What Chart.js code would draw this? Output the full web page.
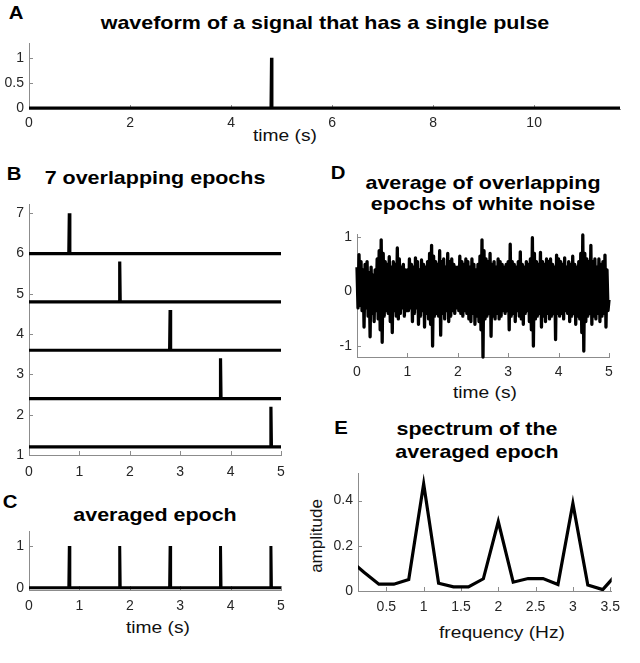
<!DOCTYPE html>
<html>
<head>
<meta charset="utf-8">
<script src="https://cdn.jsdelivr.net/npm/chart.js@4.4.1/dist/chart.umd.min.js"></script>
<style>
  body { margin: 0; width: 640px; height: 663px; background: #fff; position: relative; overflow: hidden;
         font-family: "Liberation Sans", Arial, sans-serif; }
  .panel { position: absolute; }
  .txt { position: absolute; white-space: nowrap; line-height: 1; color: #000;
         transform: translate(-50%, -50%) scaleX(1.13); }
  .letter { font-weight: bold; font-size: 18px; }
  .title { font-weight: bold; font-size: 19px; }
  .label { font-size: 17px; color: #111; }
  .rot { transform: translate(-50%, -50%) rotate(-90deg); }
</style>
</head>
<body>

<div class="txt letter" style="left:16px;top:13px">A</div>
<div class="txt title" style="left:325px;top:22px">waveform of a signal that has a single pulse</div>
<div class="txt label" style="left:285px;top:135px">time (s)</div>

<div class="txt letter" style="left:14px;top:174px">B</div>
<div class="txt title" style="left:155px;top:177px">7 overlapping epochs</div>

<div class="txt letter" style="left:10px;top:502px">C</div>
<div class="txt title" style="left:155px;top:514px">averaged epoch</div>
<div class="txt label" style="left:158px;top:627px">time (s)</div>

<div class="txt letter" style="left:338px;top:173px">D</div>
<div class="txt title" style="left:483px;top:182px">average of overlapping</div>
<div class="txt title" style="left:483px;top:203px">epochs of white noise</div>
<div class="txt label" style="left:485px;top:392px">time (s)</div>

<div class="txt letter" style="left:341px;top:428px">E</div>
<div class="txt title" style="left:477px;top:428px">spectrum of the</div>
<div class="txt title" style="left:477px;top:451px">averaged epoch</div>
<div class="txt label" style="left:502px;top:632px">frequency (Hz)</div>
<div class="txt label rot" style="left:316px;top:536px">amplitude</div>

<script>
// A: a signal with a single pulse
const aTimes = [0, 4.79, 4.8, 4.81, 11.7];
const aValues = [0, 0, 1, 0, 0];
const aXTicks = [0, 2, 4, 6, 8, 10];
const aYTicks = [0, 0.5, 1];

// B: 7 overlapping epochs (each drawn with its own offset)
const epochBaselines = [6, 4.8, 3.6, 2.4, 1.2];
const epochPulseTimes = [0.8, 1.8, 2.8, 3.8, 4.8];
const bXTicks = [0, 1, 2, 3, 4, 5];
const bYTicks = [1, 2, 3, 4, 5, 6, 7];

// C: averaged epoch
const avgPulseTimes = [0.8, 1.8, 2.8, 3.8, 4.8];
const avgPulseHeight = 1;
const cXTicks = [0, 1, 2, 3, 4, 5];
const cYTicks = [0, 1];

// pulses are one sample wide
const sampleStep = 0.01;
const epochLength = 5;

// D: average of overlapping epochs of white noise, one value every 0.02 s
const noiseStep = 0.02;
const noiseValues = [
  0.45, -0.30, 0.68, -0.25, 0.55, -0.35, 0.40, -0.65, 0.50, -0.30,
  0.55, -0.45, 0.35, -0.83, 0.45, -0.40, 0.30, -0.55, 0.40, -0.35,
  0.60, -0.50, 0.75, -0.70, 0.95, -0.93, 0.70, -0.45, 0.55, -0.35,
  0.50, -0.40, 0.64, -0.55, 0.45, -0.75, 0.55, -0.35, 0.50, -0.45,
  0.80, -0.50, 0.60, -0.40, 0.45, -0.30, 0.50, -0.45, 0.40, -0.35,
  0.40, -0.35, 0.60, -0.30, 0.50, -0.55, 0.45, -0.40, 0.62, -0.30,
  0.55, -0.60, 0.40, -0.45, 0.58, -0.35, 0.50, -0.65, 0.45, -0.40,
  0.55, -0.50, 0.70, -0.60, 0.85, -1.00, 0.65, -0.45, 0.55, -0.40,
  0.50, -0.45, 0.75, -0.80, 0.55, -0.40, 0.60, -0.50, 0.45, -0.35,
  0.70, -0.55, 0.55, -0.45, 0.60, -0.35, 0.50, -0.40, 0.45, -0.30,
  0.45, -0.35, 0.65, -0.40, 0.55, -0.45, 0.50, -0.35, 0.60, -0.40,
  0.55, -0.50, 0.45, -0.55, 0.60, -0.40, 0.50, -0.60, 0.40, -0.45,
  0.50, -0.55, 0.65, -0.70, 0.95, -1.20, 0.75, -0.50, 0.60, -0.45,
  0.55, -0.40, 0.70, -0.82, 0.50, -0.45, 0.55, -0.50, 0.45, -0.40,
  0.60, -0.50, 0.55, -0.45, 0.50, -0.35, 0.45, -0.40, 0.50, -0.35,
  0.55, -0.70, 0.87, -0.45, 0.55, -0.40, 0.50, -0.55, 0.45, -0.35,
  0.55, -0.45, 0.73, -0.50, 0.50, -0.60, 0.45, -0.40, 0.55, -0.35,
  0.50, -0.55, 0.60, -0.70, 0.99, -1.00, 0.70, -0.50, 0.55, -0.45,
  0.50, -0.40, 0.72, -0.65, 0.55, -0.45, 0.50, -0.55, 0.60, -0.40,
  0.55, -0.50, 0.60, -0.45, 0.50, -0.40, 0.45, -0.88, 0.67, -0.40,
  0.60, -0.45, 0.55, -0.40, 0.50, -0.50, 0.62, -0.35, 0.45, -0.40,
  0.55, -0.55, 0.50, -0.45, 0.65, -0.40, 0.50, -0.60, 0.45, -0.45,
  0.55, -0.50, 0.70, -0.75, 1.04, -1.09, 0.70, -0.55, 0.60, -0.45,
  0.55, -0.40, 0.85, -0.60, 0.55, -0.45, 0.60, -0.50, 0.45, -0.40,
  0.60, -0.55, 0.50, -0.45, 0.55, -0.40, 0.67, -0.65, 0.40, -0.35,
  -0.15
];
const dXTicks = [0, 1, 2, 3, 4, 5];
const dYTicks = [-1, 0, 1];

// E: spectrum of the averaged epoch
const specFreqs = [0, 0.2, 0.4, 0.6, 0.8, 1.0, 1.2, 1.4, 1.6, 1.8, 2.0, 2.2, 2.4, 2.6, 2.8, 3.0, 3.2, 3.4, 3.6];
const specAmps = [0.14, 0.083, 0.03, 0.03, 0.051, 0.474, 0.034, 0.018, 0.018, 0.054, 0.307, 0.039, 0.055, 0.055, 0.029, 0.387, 0.026, 0.006, 0.08];
const eXTicks = [0.5, 1, 1.5, 2, 2.5, 3, 3.5];
const eYTicks = [0, 0.2, 0.4];

Chart.defaults.font.family = '"Liberation Sans", Arial, sans-serif';
Chart.defaults.color = '#262626';

// MATLAB style ticks: short marks pointing into the axes
const inwardTicks = {
  id: 'inwardTicks',
  beforeDatasetsDraw(chart) {
    const { ctx, chartArea: area, scales: { x, y } } = chart;
    ctx.save();
    ctx.strokeStyle = '#8c8c8c';
    ctx.lineWidth = 1;
    ctx.beginPath();
    for (const t of x.ticks) {
      const px = Math.round(x.getPixelForValue(t.value)) + 0.5;
      ctx.moveTo(px, area.bottom);
      ctx.lineTo(px, area.bottom - 4);
    }
    for (const t of y.ticks) {
      const py = Math.round(y.getPixelForValue(t.value)) + 0.5;
      ctx.moveTo(area.left, py);
      ctx.lineTo(area.left + 4, py);
    }
    ctx.stroke();
    ctx.restore();
  }
};
Chart.register(inwardTicks);

function pulseTrain(times, base, height) {
  const pts = [{ x: 0, y: base }];
  for (const t of times) {
    pts.push({ x: t - sampleStep, y: base });
    pts.push({ x: t, y: base + height });
    pts.push({ x: t + sampleStep, y: base });
  }
  pts.push({ x: epochLength, y: base });
  return pts;
}

function lineSet(points, width, extra) {
  return Object.assign({
    data: points,
    borderColor: '#000',
    borderWidth: width,
    pointRadius: 0,
    fill: false,
    tension: 0
  }, extra || {});
}

function axis(min, max, ticks, pad, fitSize, horizontal) {
  return {
    type: 'linear',
    min: min,
    max: max,
    grid: { display: false, drawTicks: false },
    border: { display: true, color: '#8c8c8c', width: 1 },
    ticks: {
      autoSkip: false,
      maxRotation: 0,
      padding: pad,
      font: { size: 14 },
      callback: (v) => String(v)
    },
    afterBuildTicks: (scale) => { scale.ticks = ticks.map((v) => ({ value: v })); },
    afterFit: (scale) => {
      if (horizontal) scale.height = fitSize; else scale.width = fitSize;
    }
  };
}

// area = plot box in page pixels, frameLeft = left edge of the panel column
function makePanel(area, frameLeft, xCfg, yCfg, datasets) {
  const padTop = 12, padRight = 14, xH = 30;
  const div = document.createElement('div');
  div.className = 'panel';
  div.style.left = frameLeft + 'px';
  div.style.top = (area.t - padTop) + 'px';
  div.style.width = (area.r + padRight - frameLeft) + 'px';
  div.style.height = (area.b - area.t + padTop + xH) + 'px';
  const canvas = document.createElement('canvas');
  div.appendChild(canvas);
  document.body.appendChild(div);

  return new Chart(canvas, {
    type: 'line',
    data: { datasets: datasets },
    options: {
      responsive: true,
      maintainAspectRatio: false,
      animation: false,
      events: [],
      layout: { padding: { top: padTop, right: padRight, left: 0, bottom: 0 } },
      plugins: { legend: { display: false }, tooltip: { enabled: false } },
      scales: {
        x: axis(xCfg.min, xCfg.max, xCfg.ticks, xCfg.pad, xH, true),
        y: axis(yCfg.min, yCfg.max, yCfg.ticks, 5, area.l - frameLeft, false)
      }
    }
  });
}

// A
makePanel({ l: 29, r: 620, t: 42, b: 109 }, 0,
  { min: 0, max: 11.7, ticks: aXTicks, pad: 6 },
  { min: -0.02, max: 1.285, ticks: aYTicks },
  [lineSet(aTimes.map((t, i) => ({ x: t, y: aValues[i] })), 3, { clip: false })]);

// B
makePanel({ l: 29, r: 281, t: 203, b: 455 }, 0,
  { min: 0, max: 5, ticks: bXTicks, pad: 9 },
  { min: 1, max: 7.22, ticks: bYTicks },
  epochBaselines.map((base, k) => lineSet(pulseTrain([epochPulseTimes[k]], base, 1), 3.2, { clip: false })));

// C
makePanel({ l: 29, r: 281, t: 530, b: 590 }, 0,
  { min: 0, max: 5, ticks: cXTicks, pad: 8 },
  { min: -0.055, max: 1.35, ticks: cYTicks },
  [lineSet(pulseTrain(avgPulseTimes, 0, avgPulseHeight), 3, { clip: false })]);

// D
makePanel({ l: 357, r: 609, t: 233, b: 357 }, 320,
  { min: 0, max: 5, ticks: dXTicks, pad: 7 },
  { min: -1.2, max: 1.05, ticks: dYTicks },
  [lineSet(noiseValues.map((v, i) => ({ x: i * noiseStep, y: v })), 3.3, { clip: false, borderJoinStyle: 'round' })]);

// E
makePanel({ l: 358, r: 614, t: 472, b: 591 }, 320,
  { min: 0.12, max: 3.52, ticks: eXTicks, pad: 8 },
  { min: 0, max: 0.52, ticks: eYTicks },
  [lineSet(specFreqs.map((f, i) => ({ x: f, y: specAmps[i] })), 3.2)]);
</script>
</body>
</html>
